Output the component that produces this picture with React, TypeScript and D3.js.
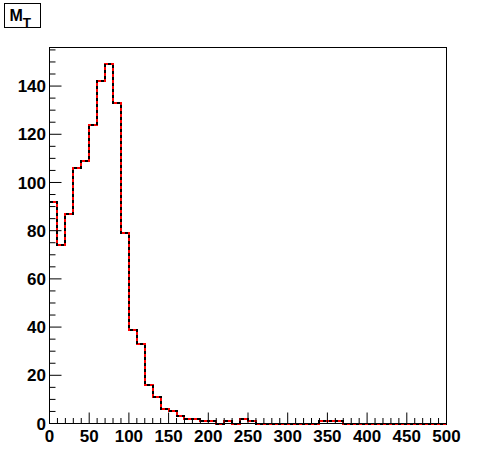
import React from "react";
import * as d3 from "d3";

const binEdges: number[] = d3.range(0, 500, 10);
const counts: number[] = [
  92, 74, 87, 106, 109, 124, 142, 149, 133, 79,
  39, 33, 16, 11, 6, 5, 3, 2, 2, 1,
  1, 0, 1, 0, 2, 1, 0, 0, 0, 0,
  0, 0, 0, 0, 1, 1, 1, 0, 0, 0,
  0, 0, 0, 0, 0, 0, 0, 0, 0, 0,
];
const xTicks: number[] = [0, 50, 100, 150, 200, 250, 300, 350, 400, 450, 500];
const yTicks: number[] = [0, 20, 40, 60, 80, 100, 120, 140];

const W = 496, H = 472;
const L = 49.5, R = 446.5, T = 47.5, B = 423.5;
const FONT = "'Liberation Sans', Arial, Helvetica, sans-serif";

export default function App() {
  const x = d3.scaleLinear().domain([0, 500]).range([L, R]);
  const y = d3.scaleLinear().domain([0, 156]).range([B, T]);

  const pts: [number, number][] = [];
  counts.forEach((c, i) => {
    pts.push([Math.round(x(binEdges[i])), Math.round(y(c))]);
    pts.push([Math.round(x(binEdges[i] + 10)), Math.round(y(c))]);
  });
  const line = d3.line<[number, number]>().x(d => d[0]).y(d => d[1]);
  const path = line(pts) || "";

  const xMinor = d3.range(0, 501, 10);
  const yMinor = d3.range(0, 156, 5);

  return (
    <svg width={W} height={H} style={{ position: "absolute", left: 0, top: 0, background: "#fff" }}>
      <rect x={0} y={0} width={W} height={H} fill="#fff" />
      {/* histogram */}
      <path d={path} fill="none" stroke="#ff0000" strokeWidth={2} shapeRendering="crispEdges" />
      <path d={path} fill="none" stroke="#000" strokeWidth={2} strokeDasharray="3,3" shapeRendering="crispEdges" />
      {/* frame */}
      <rect x={L} y={T} width={R - L} height={B - T} fill="none" stroke="#000" strokeWidth={1} />
      {/* x ticks */}
      {xMinor.map(v => (
        <line key={"xm" + v} x1={x(v)} x2={x(v)} y1={B} y2={B - (v % 50 === 0 ? 11 : 5.5)} stroke="#000" strokeWidth={1} />
      ))}
      {yMinor.map(v => (
        <line key={"ym" + v} x1={L} x2={L + (v % 20 === 0 ? 12 : 6)} y1={y(v)} y2={y(v)} stroke="#000" strokeWidth={1} />
      ))}
      {xTicks.map(v => (
        <text key={"xl" + v} x={x(v)} y={441.5} textAnchor="middle" fontFamily={FONT} fontWeight="bold" fontSize={17} fill="#000">{v}</text>
      ))}
      {yTicks.map(v => (
        <text key={"yl" + v} x={46} y={y(v)} dy="0.36em" textAnchor="end" fontFamily={FONT} fontWeight="bold" fontSize={17} fill="#000">{v}</text>
      ))}
      {/* title box */}
      <rect x={4.5} y={3.5} width={36} height={24} fill="#fff" stroke="#000" strokeWidth={1} />
      <text x={9.5} y={21} fontFamily={FONT} fontWeight="bold" fontSize={16} fill="#000">
        M
        <tspan fontSize={13.5} dy={5.5}>T</tspan>
      </text>
    </svg>
  );
}
